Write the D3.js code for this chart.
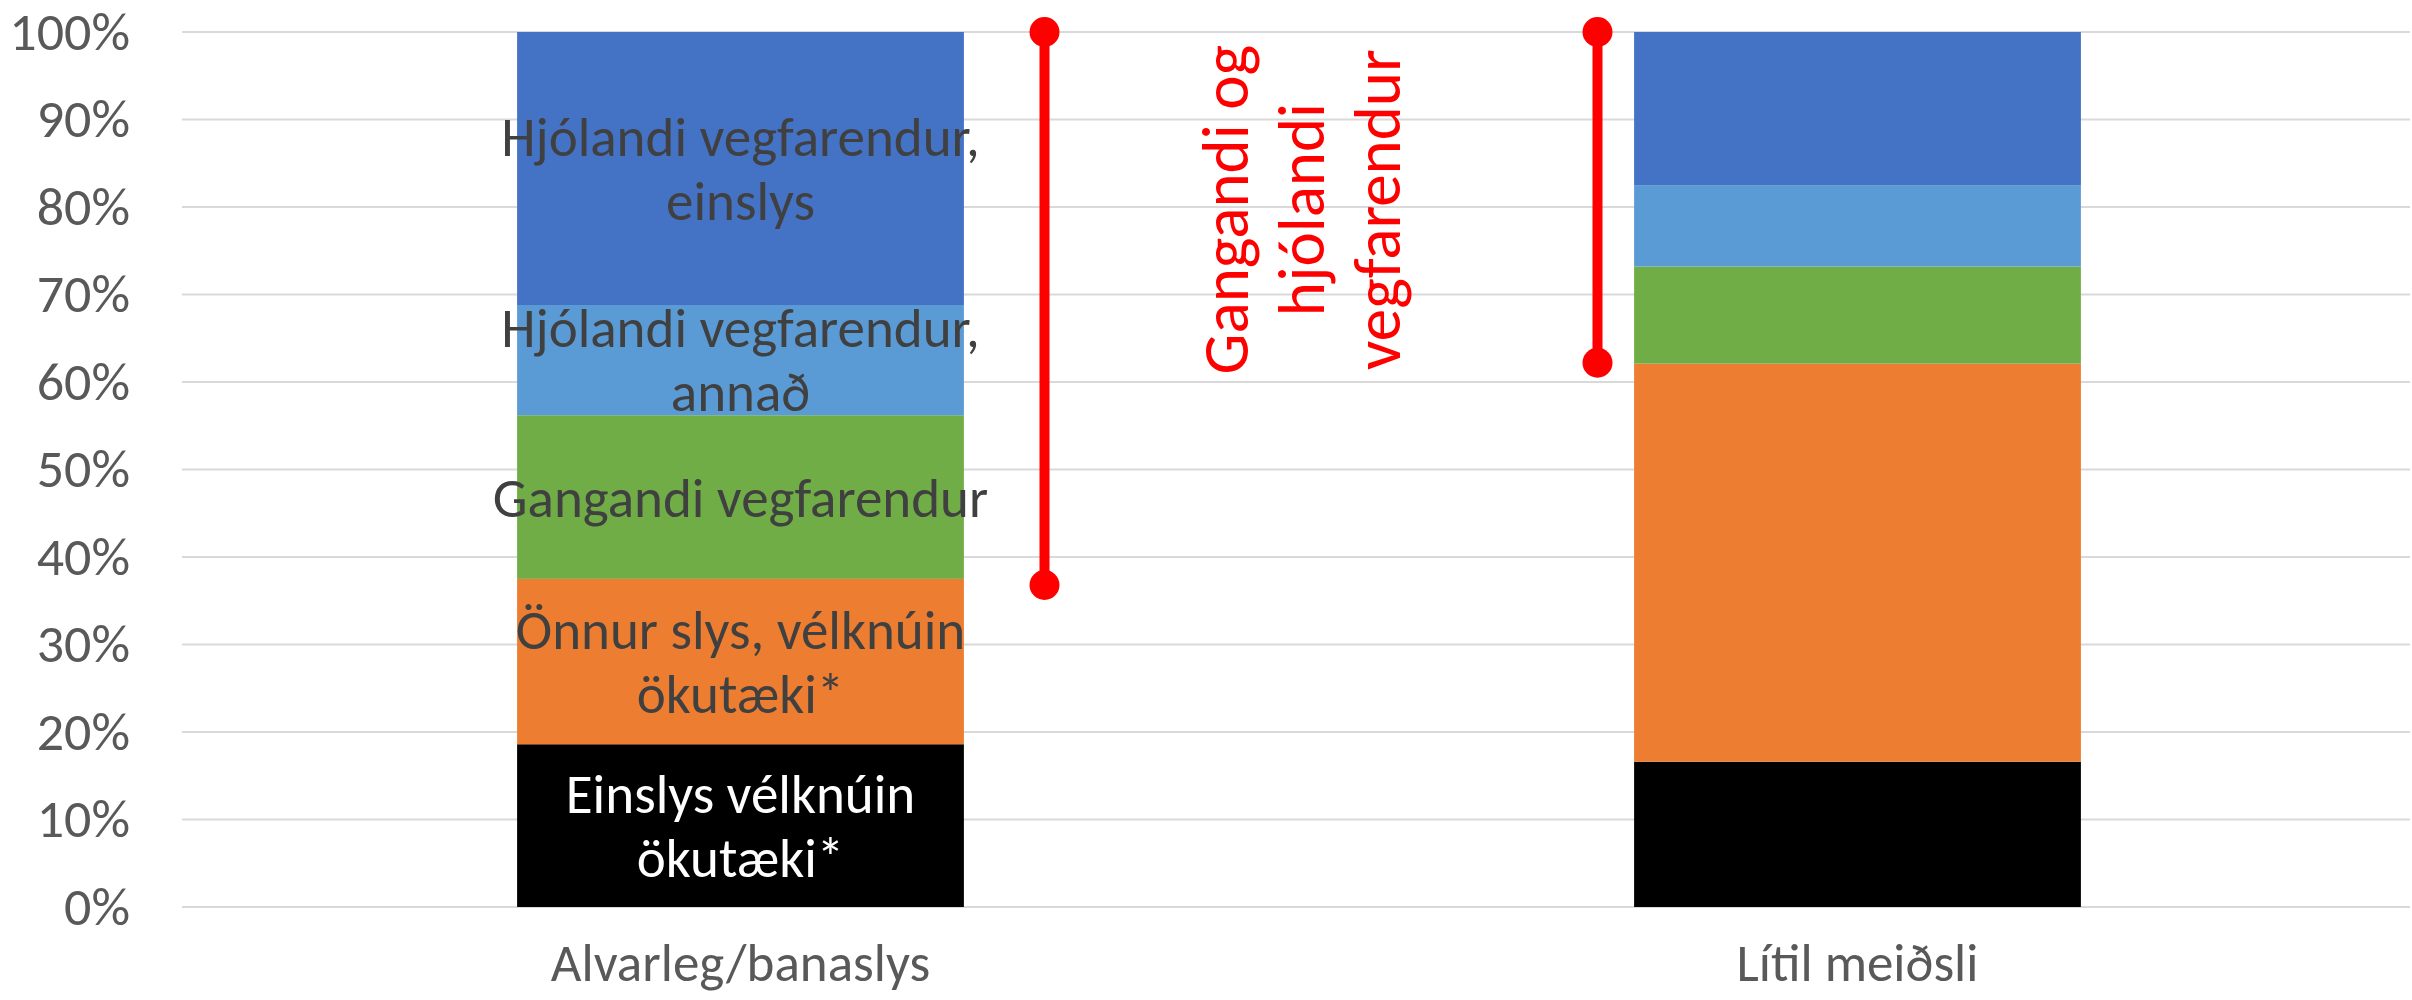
<!DOCTYPE html>
<html>
<head>
<meta charset="utf-8">
<script src="https://cdn.jsdelivr.net/npm/d3@7"></script>
<style>
  body { margin: 0; background: #fff; }
  text { font-family: Carlito, Lato, "Open Sans", sans-serif; }
</style>
</head>
<body>
<svg id="chart" width="2412" height="1000"></svg>
<script>
// Data (percent of each group)
const categories = ["Alvarleg/banaslys", "Lítil meiðsli"];
const seriesNames = [
  "Einslys vélknúin ökutæki*",
  "Önnur slys, vélknúin ökutæki*",
  "Gangandi vegfarendur",
  "Hjólandi vegfarendur, annað",
  "Hjólandi vegfarendur, einslys"
];
const einslysVelknuin = [18.6, 16.6];
const onnurSlys = [18.9, 45.5];
const gangandi = [18.7, 11.1];
const hjolandiAnnad = [12.6, 9.3];
const hjolandiEinslys = [31.2, 17.5];
const seriesColors = ["#000000", "#ED7D31", "#70AD47", "#5B9BD5", "#4472C4"];
const yTicks = [0, 10, 20, 30, 40, 50, 60, 70, 80, 90, 100];

// Labels drawn inside the first bar
const labelLines = [
  ["Einslys vélknúin", "ökutæki*"],
  ["Önnur slys, vélknúin", "ökutæki*"],
  ["Gangandi vegfarendur"],
  ["Hjólandi vegfarendur,", "annað"],
  ["Hjólandi vegfarendur,", "einslys"]
];

// Red range markers (walking + cycling share)
const rangeLow = [36.8, 62.2];
const rangeHigh = [100, 100];
const rangeNote = ["Gangandi og", "hjólandi", "vegfarendur"];

// Layout
const margin = {top: 32, left: 182, bottom: 93},
    width = 2412, height = 1000,
    plotBottom = height - margin.bottom;

const svg = d3.select("#chart");

const x = d3.scaleBand()
    .domain(categories)
    .range([margin.left, 2416])
    .padding(0);
const barWidth = x.step() * 0.4;

const y = d3.scaleLinear()
    .domain([0, 100])
    .range([plotBottom, margin.top]);

// Gridlines
svg.append("g")
    .selectAll("line")
    .data(yTicks)
    .join("line")
    .attr("x1", margin.left)
    .attr("x2", 2410)
    .attr("y1", d => y(d))
    .attr("y2", d => y(d))
    .attr("stroke", "#d9d9d9")
    .attr("stroke-width", 2);

// Y axis labels
const yAxis = svg.append("g")
    .attr("transform", `translate(${margin.left},0)`)
    .call(d3.axisLeft(y).tickValues(yTicks).tickFormat(d => d + "%").tickSize(0).tickPadding(52));
yAxis.select(".domain").remove();
yAxis.selectAll("text")
    .attr("font-family", "Carlito, Lato, sans-serif")
    .attr("font-size", 54)
    .attr("fill", "#595959");

// Stack the data
const rows = categories.map((c, i) => ({
  cat: c,
  s0: einslysVelknuin[i],
  s1: onnurSlys[i],
  s2: gangandi[i],
  s3: hjolandiAnnad[i],
  s4: hjolandiEinslys[i]
}));
const keys = ["s0", "s1", "s2", "s3", "s4"];
const stacked = d3.stack().keys(keys)(rows);

const layers = svg.append("g")
  .selectAll("g")
  .data(stacked)
  .join("g")
    .attr("fill", (d, i) => seriesColors[i]);

layers.selectAll("rect")
  .data(d => d)
  .join("rect")
    .attr("x", d => x(d.data.cat) + (x.step() - barWidth) / 2)
    .attr("y", d => y(d[1]))
    .attr("width", barWidth)
    .attr("height", d => y(d[0]) - y(d[1]));

// Segment labels on first bar
const cx0 = x(categories[0]) + x.step() / 2;
stacked.forEach((layer, i) => {
  const seg = layer[0];
  const mid = (y(seg[0]) + y(seg[1])) / 2;
  const lines = labelLines[i];
  const t = svg.append("text")
      .attr("text-anchor", "middle")
      .attr("font-size", 55)
      .attr("fill", i === 0 ? "#ffffff" : "#404040");
  lines.forEach((ln, j) => {
    const base = lines.length === 1 ? mid + 20 : mid - 13 + j * 64;
    t.append("tspan").attr("x", cx0).attr("y", base).text(ln);
  });
});

// Category labels
svg.append("g")
  .selectAll("text")
  .data(categories)
  .join("text")
    .attr("x", d => x(d) + x.step() / 2)
    .attr("y", 981)
    .attr("text-anchor", "middle")
    .attr("font-size", 53)
    .attr("fill", "#595959")
    .text(d => d);

// Red range lines with round ends
const rangeOffset = [304, -260];
const red = "#FF0000";
categories.forEach((c, i) => {
  const rx = x(c) + x.step() / 2 + rangeOffset[i];
  svg.append("line")
      .attr("x1", rx).attr("x2", rx)
      .attr("y1", y(rangeLow[i])).attr("y2", y(rangeHigh[i]))
      .attr("stroke", red)
      .attr("stroke-width", 10);
  [rangeLow[i], rangeHigh[i]].forEach(v => {
    svg.append("circle")
        .attr("cx", rx).attr("cy", y(v))
        .attr("r", 15)
        .attr("fill", red);
  });
});

// Rotated red note
const noteX = cx0 + rangeOffset[0] + 203;
const noteY = y(79.7);
const note = svg.append("text")
    .attr("transform", `translate(${noteX},${noteY}) rotate(-90)`)
    .attr("text-anchor", "middle")
    .attr("font-size", 65)
    .attr("fill", red);
rangeNote.forEach((ln, j) => {
  note.append("tspan").attr("x", 0).attr("y", j * 76).text(ln);
});
</script>
</body>
</html>
